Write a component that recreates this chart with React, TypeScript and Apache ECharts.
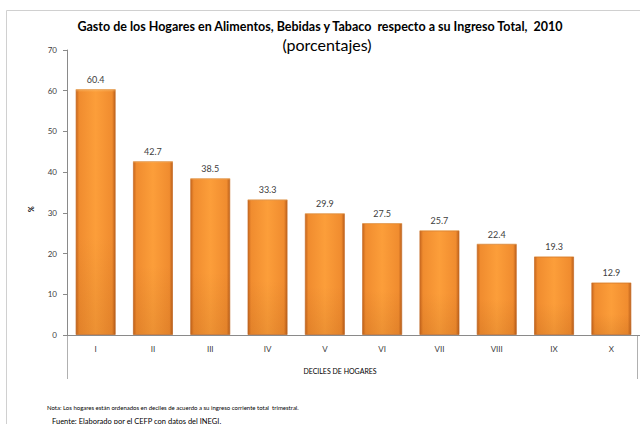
import React, { useEffect, useRef } from "react";
import * as echarts from "echarts";

const categories = ["I", "II", "III", "IV", "V", "VI", "VII", "VIII", "IX", "X"];
const values = [60.4, 42.7, 38.5, 33.3, 29.9, 27.5, 25.7, 22.4, 19.3, 12.9];
const titleText = "Gasto de los Hogares en Alimentos, Bebidas y Tabaco  respecto a su Ingreso Total,  2010";
const subtitleText = "(porcentajes)";
const xAxisTitle = "DECILES DE HOGARES";
const yAxisTitle = "%";
const note1 = "Nota: Los hogares están ordenados en deciles de acuerdo a su ingreso corriente total  trimestral.";
const note2 = "Fuente: Elaborado por el CEFP con datos del INEGI.";

const FONT = "Lato, 'Noto Sans', sans-serif";

export default function App() {
  const ref = useRef<HTMLDivElement>(null);
  useEffect(() => {
    if (!ref.current) return;
    const chart = echarts.init(ref.current, undefined, { renderer: "svg" });
    chart.setOption({
      animation: false,
      backgroundColor: "#ffffff",
      textStyle: { fontFamily: FONT },
      grid: { left: 67, right: 0, top: 50, bottom: 89 },
      xAxis: {
        type: "category",
        data: categories,
        axisLine: { show: true, lineStyle: { color: "#8a8a8a", width: 1 } },
        axisTick: { show: false },
        axisLabel: { color: "#404040", fontSize: 8, margin: 10, fontFamily: FONT },
        z: 10,
      },
      yAxis: {
        type: "value",
        min: 0,
        max: 70,
        interval: 10,
        splitLine: { show: false },
        axisLine: { show: true, lineStyle: { color: "#8a8a8a", width: 1 } },
        axisTick: { show: true, length: 4, lineStyle: { color: "#8a8a8a" } },
        axisLabel: { color: "#404040", fontSize: 8, margin: 10, fontFamily: FONT },
      },
      series: [
        {
          type: "bar",
          data: values,
          barCategoryGap: "30%",
          itemStyle: {
            color: new echarts.graphic.LinearGradient(0, 0, 1, 0, [
              { offset: 0, color: "#C8671D" },
              { offset: 0.08, color: "#F08C2F" },
              { offset: 0.5, color: "#FC9E3A" },
              { offset: 0.92, color: "#F08C2F" },
              { offset: 1, color: "#BC601B" },
            ]),
            borderColor: "rgba(200,110,40,0.7)",
            borderWidth: 1,
          },
          label: {
            show: true,
            position: "top",
            distance: 5,
            color: "#404040",
            fontSize: 9,
            fontFamily: FONT,
            formatter: (p: any) => p.value.toFixed(1),
          },
        },
        {
          type: "bar",
          data: values,
          barGap: "-100%",
          barCategoryGap: "30%",
          silent: true,
          itemStyle: {
            color: new echarts.graphic.LinearGradient(0, 0, 0, 1, [
              { offset: 0, color: "rgba(255,210,140,0.55)" },
              { offset: 0.012, color: "rgba(255,200,120,0.0)" },
              { offset: 0.6, color: "rgba(120,50,0,0.0)" },
              { offset: 1, color: "rgba(120,50,0,0.12)" },
            ]),
          },
          label: { show: false },
        },
      ],
      graphic: [
        {
          type: "rect",
          shape: { x: 6.5, y: 10.5, width: 700, height: 500 },
          style: { fill: "none", stroke: "#d0d0d0", lineWidth: 1 },
          silent: true,
        },
        {
          type: "text",
          x: 320,
          y: 20,
          style: { text: titleText, font: `bold 12.5px ${FONT}`, fill: "#000000", textAlign: "center" },
        },
        {
          type: "text",
          x: 327,
          y: 36,
          style: { text: subtitleText, font: `16px ${FONT}`, fill: "#000000", textAlign: "center" },
        },
        {
          type: "line",
          shape: { x1: 67.5, y1: 335, x2: 67.5, y2: 379 },
          style: { stroke: "#b0b0b0", lineWidth: 1 },
        },
        {
          type: "line",
          shape: { x1: 637.5, y1: 335, x2: 637.5, y2: 379 },
          style: { stroke: "#b0b0b0", lineWidth: 1 },
        },
        {
          type: "text",
          x: 340,
          y: 367,
          style: { text: xAxisTitle, font: `7px ${FONT}`, fill: "#000000", textAlign: "center" },
        },
        {
          type: "text",
          x: 31,
          y: 209,
          rotation: Math.PI / 2,
          style: { text: yAxisTitle, font: `bold 7px ${FONT}`, fill: "#000000", textAlign: "center", textVerticalAlign: "middle" },
        },
        {
          type: "text",
          x: 47,
          y: 404,
          style: { text: note1, font: `6px ${FONT}`, fill: "#000000" },
        },
        {
          type: "text",
          x: 52,
          y: 417,
          style: { text: note2, font: `7.5px ${FONT}`, fill: "#000000" },
        },
      ],
    });
    return () => chart.dispose();
  }, []);
  return <div ref={ref} style={{ position: "fixed", left: 0, top: 0, width: 640, height: 424 }} />;
}
